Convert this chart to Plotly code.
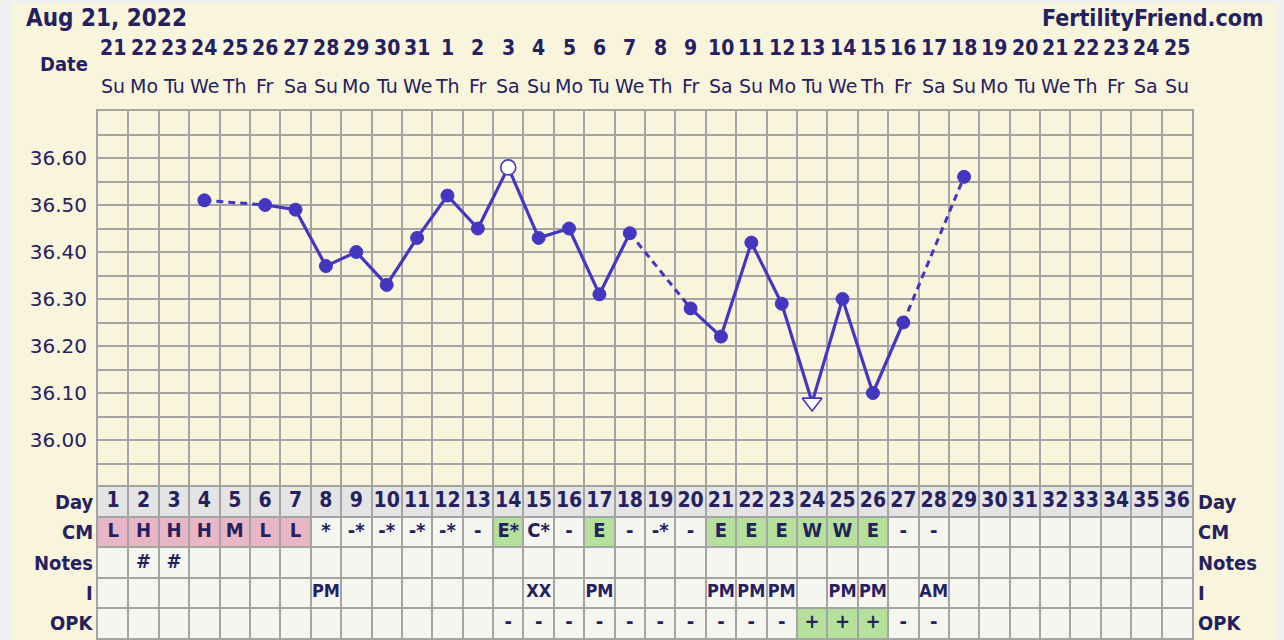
import plotly.graph_objects as go

# ---------------- data ----------------
cycle_days = list(range(1, 37))
date_labels = ["21", "22", "23", "24", "25", "26", "27", "28", "29", "30", "31",
               "1", "2", "3", "4", "5", "6", "7", "8", "9", "10", "11", "12", "13",
               "14", "15", "16", "17", "18", "19", "20", "21", "22", "23", "24", "25"]
weekday_labels = ["Su", "Mo", "Tu", "We", "Th", "Fr", "Sa",
                  "Su", "Mo", "Tu", "We", "Th", "Fr", "Sa",
                  "Su", "Mo", "Tu", "We", "Th", "Fr", "Sa",
                  "Su", "Mo", "Tu", "We", "Th", "Fr", "Sa",
                  "Su", "Mo", "Tu", "We", "Th", "Fr", "Sa",
                  "Su"]

temp_days = [4, 6, 7, 8, 9, 10, 11, 12, 13, 14, 15, 16, 17, 18, 20, 21, 22, 23, 24, 25, 26, 27, 29]
temp_values = [36.51, 36.50, 36.49, 36.37, 36.40, 36.33, 36.43, 36.52, 36.45, 36.58, 36.43, 36.45,
               36.31, 36.44, 36.28, 36.22, 36.42, 36.29, 36.08, 36.30, 36.10, 36.25, 36.56]
temp_kind = ["dot", "dot", "dot", "dot", "dot", "dot", "dot", "dot", "dot", "open", "dot", "dot",
             "dot", "dot", "dot", "dot", "dot", "dot", "tri", "dot", "dot", "dot", "dot"]

temp_tick_labels = ["36.00", "36.10", "36.20", "36.30", "36.40", "36.50", "36.60"]

row_labels = ["Day", "CM", "Notes", "I", "OPK"]

cm_days = list(range(1, 29))
cm_values = ["L", "H", "H", "H", "M", "L", "L", "*", "-*", "-*", "-*", "-*", "-", "E*", "C*", "-",
             "E", "-", "-*", "-", "E", "E", "E", "W", "W", "E", "-", "-"]
notes_days = [2, 3]
notes_values = ["#", "#"]
i_days = [8, 15, 17, 21, 22, 23, 25, 26, 28]
i_values = ["PM", "XX", "PM", "PM", "PM", "PM", "PM", "PM", "AM"]
opk_days = [14, 15, 16, 17, 18, 19, 20, 21, 22, 23, 24, 25, 26, 27, 28]
opk_values = ["-", "-", "-", "-", "-", "-", "-", "-", "-", "-", "+", "+", "+", "-", "-"]

# ---------------- style ----------------
NAVY = "#25215E"
LINE = "#4536C2"
GRID = "#A4A4A4"
CREAM = "#F8F5DC"
CELL = "#F6F6F1"
DAYROW = "#E4E4E4"
PINK = "#E9B6C7"
GREEN = "#B5E19C"
BOLD = "DejaVu Sans Condensed, DejaVu Sans, sans-serif"
REG = "DejaVu Sans, Verdana, sans-serif"

W, H = 1284, 640
L_, R_, T_, B_ = 98, 92, 111, 2
PW, PH = W - L_ - R_, H - T_ - B_
split = (PH - (487 - T_)) / PH  # table / temp boundary in paper coords


def px_x(px):
    return (px - L_) / PW


def px_y(py):
    return (H - B_ - py) / PH


fig = go.Figure()

# ---- temperature line segments ----
sx, sy, dx, dy = [], [], [], []
for i in range(len(temp_days) - 1):
    seg_x = [temp_days[i], temp_days[i + 1], None]
    seg_y = [temp_values[i], temp_values[i + 1], None]
    if temp_days[i + 1] - temp_days[i] == 1:
        sx += seg_x
        sy += seg_y
    else:
        dx += seg_x
        dy += seg_y

fig.add_trace(go.Scatter(x=sx, y=sy, mode="lines", line=dict(color=LINE, width=3.2),
                         xaxis="x", yaxis="y", hoverinfo="skip", showlegend=False))
fig.add_trace(go.Scatter(x=dx, y=dy, mode="lines", line=dict(color=LINE, width=3, dash="7px,5px"),
                         xaxis="x", yaxis="y", hoverinfo="skip", showlegend=False))

marker_styles = {
    "dot": dict(symbol="circle", size=13, color=LINE, line=dict(color=LINE, width=1)),
    "open": dict(symbol="circle", size=15, color="#FFFFFF", line=dict(color=LINE, width=1.6)),
    "tri": dict(symbol="triangle-down", size=17, color="#FFFFFF", line=dict(color=LINE, width=1.6)),
}
for kind, mstyle in marker_styles.items():
    xs = [d for d, k in zip(temp_days, temp_kind) if k == kind]
    ys = [v for v, k in zip(temp_values, temp_kind) if k == kind]
    fig.add_trace(go.Scatter(x=xs, y=ys, mode="markers", marker=mstyle,
                             xaxis="x", yaxis="y", showlegend=False))

# ---- table cell fills ----
shapes = []
# cream panel
shapes.append(dict(type="rect", xref="paper", yref="paper", x0=px_x(12), x1=px_x(1277),
                   y0=-0.02, y1=px_y(3), fillcolor=CREAM, line=dict(width=0), layer="below"))
for d in cycle_days:
    shapes.append(dict(type="rect", xref="x", yref="y2", x0=d - 0.5, x1=d + 0.5, y0=0, y1=1,
                       fillcolor=DAYROW, line=dict(width=0), layer="below"))
    shapes.append(dict(type="rect", xref="x", yref="y2", x0=d - 0.5, x1=d + 0.5, y0=1, y1=5,
                       fillcolor=CELL, line=dict(width=0), layer="below"))


def cell_color(v):
    if v[0] in "LHM":
        return PINK
    if v[0] in "EW":
        return GREEN
    return None


for d, v in zip(cm_days, cm_values):
    c = cell_color(v)
    if c:
        shapes.append(dict(type="rect", xref="x", yref="y2", x0=d - 0.5, x1=d + 0.5, y0=1, y1=2,
                           fillcolor=c, line=dict(width=0), layer="below"))
for d, v in zip(opk_days, opk_values):
    if v == "+":
        shapes.append(dict(type="rect", xref="x", yref="y2", x0=d - 0.5, x1=d + 0.5, y0=4, y1=5,
                           fillcolor=GREEN, line=dict(width=0), layer="below"))

# ---- table texts ----
tfont = dict(family=BOLD, size=20, color=NAVY, weight="bold")
ifont = dict(family=BOLD, size=18, color=NAVY, weight="bold")
fig.add_trace(go.Scatter(x=cycle_days, y=[0.5] * len(cycle_days), text=[str(d) for d in cycle_days],
                         mode="text", textfont=dict(family=BOLD, size=21, color=NAVY, weight="bold"),
                         xaxis="x", yaxis="y2", showlegend=False, hoverinfo="skip"))
for row, (days, vals) in enumerate([(cm_days, cm_values), (notes_days, notes_values),
                                    (i_days, i_values), (opk_days, opk_values)], start=1):
    fig.add_trace(go.Scatter(x=days, y=[row + 0.5] * len(days), text=vals, mode="text",
                             textfont=ifont if row == 3 else tfont, xaxis="x", yaxis="y2",
                             showlegend=False, hoverinfo="skip"))

# ---- annotations: header, dates, row labels ----
ann = []
ann.append(dict(text="Aug 21, 2022", xref="paper", yref="paper", x=px_x(24), y=px_y(18),
                xanchor="left", yanchor="middle", showarrow=False,
                font=dict(family=BOLD, size=24, color=NAVY, weight="bold")))
ann.append(dict(text="FertilityFriend.com", xref="paper", yref="paper", x=px_x(1265), y=px_y(18),
                xanchor="right", yanchor="middle", showarrow=False,
                font=dict(family=BOLD, size=23, color=NAVY, weight="bold")))
ann.append(dict(text="Date", xref="paper", yref="paper", x=px_x(90), y=px_y(64),
                xanchor="right", yanchor="middle", showarrow=False,
                font=dict(family=BOLD, size=20, color=NAVY, weight="bold")))
for d, lab, wd in zip(cycle_days, date_labels, weekday_labels):
    ann.append(dict(text=lab, xref="x", yref="paper", x=d, y=px_y(48), xanchor="center",
                    yanchor="middle", showarrow=False,
                    font=dict(family="Liberation Sans Narrow, DejaVu Sans Condensed, sans-serif",
                              size=21, color=NAVY, weight="bold")))
    ann.append(dict(text=wd, xref="x", yref="paper", x=d, y=px_y(86), xanchor="center",
                    yanchor="middle", showarrow=False,
                    font=dict(family=REG, size=19, color=NAVY)))
for r, lab in enumerate(row_labels):
    ann.append(dict(text=lab, xref="paper", yref="y2", x=px_x(95), y=r + 0.5, xanchor="right",
                    yanchor="middle", showarrow=False,
                    font=dict(family=BOLD, size=20, color=NAVY, weight="bold")))
    ann.append(dict(text=lab, xref="paper", yref="y2", x=px_x(1196), y=r + 0.5, xanchor="left",
                    yanchor="middle", showarrow=False,
                    font=dict(family=BOLD, size=20, color=NAVY, weight="bold")))

# temperature grid ticks every 0.05, labels every 0.1
grid_vals = [round(35.90 + 0.05 * k, 2) for k in range(17)]
lab_map = {float(t): t for t in temp_tick_labels}
grid_text = [lab_map.get(v, "") for v in grid_vals]

yfont = dict(family=REG, size=20, color=NAVY)
fig.update_layout(
    width=W, height=H,
    margin=dict(l=L_, r=R_, t=T_, b=B_),
    paper_bgcolor="#F0F0F0",
    plot_bgcolor=CREAM,
    shapes=shapes,
    annotations=ann,
    xaxis=dict(range=[0.5, 36.5], tickmode="linear", tick0=0.5, dtick=1, showticklabels=False,
               showgrid=True, gridcolor=GRID, gridwidth=2, zeroline=False, anchor="y2",
               showline=True, linecolor=GRID, linewidth=2, mirror="all", ticks=""),
    yaxis=dict(domain=[split, 1], range=[35.90, 36.70], tickmode="array", tickvals=grid_vals,
               ticktext=grid_text, showgrid=True, gridcolor=GRID, gridwidth=2, zeroline=False,
               showline=True, linecolor=GRID, linewidth=2, mirror=True, tickfont=yfont,
               ticks="outside", ticklen=5, tickcolor="rgba(0,0,0,0)"),
    yaxis3=dict(overlaying="y", side="right", matches="y", range=[35.90, 36.70], tickmode="array",
                tickvals=grid_vals, ticktext=grid_text, showgrid=False, zeroline=False,
                tickfont=yfont, ticks="outside", ticklen=5, tickcolor="rgba(0,0,0,0)",
                anchor="x"),
    yaxis2=dict(domain=[0, split], range=[5, 0], tickmode="array", tickvals=[0, 1, 2, 3, 4, 5],
                showticklabels=False, showgrid=True, gridcolor=GRID, gridwidth=2, zeroline=False,
                showline=True, linecolor=GRID, linewidth=2, mirror=True, ticks=""),
    hovermode=False,
)

fig.write_html("out.html", config={"displayModeBar": False},
               post_script="document.body.style.margin='0';document.body.style.overflow='hidden';")
